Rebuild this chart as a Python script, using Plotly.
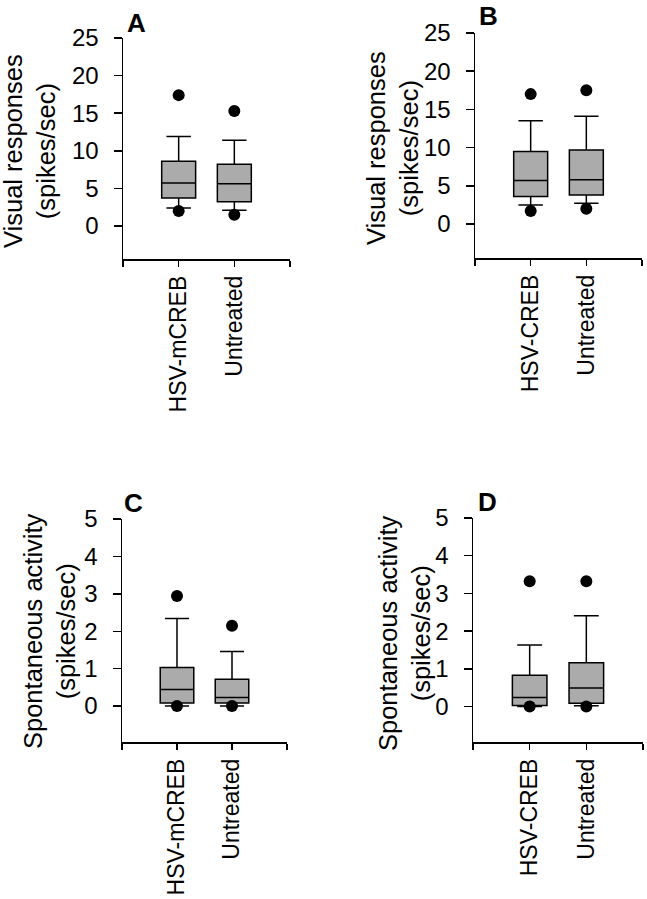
import plotly.graph_objects as go

# ---------------- data ----------------
cats_A = ["HSV-mCREB", "Untreated"]
cats_B = ["HSV-CREB", "Untreated"]

# Panel A (visual responses)
A_q1 = [3.7, 3.2]
A_med = [5.7, 5.6]
A_q3 = [8.6, 8.2]
A_lo = [2.4, 2.1]
A_hi = [11.9, 11.4]
A_out_hi = [17.4, 15.3]
A_out_lo = [2.0, 1.5]

# Panel B (visual responses)
B_q1 = [3.6, 3.8]
B_med = [5.7, 5.8]
B_q3 = [9.5, 9.7]
B_lo = [2.5, 2.7]
B_hi = [13.5, 14.1]
B_out_hi = [17.0, 17.5]
B_out_lo = [1.7, 2.0]

# Panel C (spontaneous activity)
C_q1 = [0.08, 0.08]
C_med = [0.44, 0.23]
C_q3 = [1.03, 0.72]
C_lo = [0.0, 0.0]
C_hi = [2.34, 1.46]
C_out_hi = [2.94, 2.15]
C_out_lo = [0.0, 0.0]

# Panel D (spontaneous activity)
D_q1 = [0.03, 0.09]
D_med = [0.24, 0.49]
D_q3 = [0.83, 1.16]
D_lo = [0.0, 0.02]
D_hi = [1.63, 2.41]
D_out_hi = [3.32, 3.32]
D_out_lo = [0.0, 0.0]

vis_ticks = [0, 5, 10, 15, 20, 25]
spon_ticks = [0, 1, 2, 3, 4, 5]

# ---------------- figure ----------------
W, H = 647, 899
FONT = "Liberation Sans, Arial, Helvetica, sans-serif"
FILL = "#ababab"

panels = [
    dict(n="", cats=cats_A, q1=A_q1, med=A_med, q3=A_q3, lo=A_lo, hi=A_hi,
         oh=A_out_hi, ol=A_out_lo, yr=[-4.4, 25], ticks=vis_ticks,
         px=(123, 290), py=(38, 259)),
    dict(n="2", cats=cats_B, q1=B_q1, med=B_med, q3=B_q3, lo=B_lo, hi=B_hi,
         oh=B_out_hi, ol=B_out_lo, yr=[-4.45, 25], ticks=vis_ticks,
         px=(475, 642), py=(33, 258)),
    dict(n="3", cats=cats_A, q1=C_q1, med=C_med, q3=C_q3, lo=C_lo, hi=C_hi,
         oh=C_out_hi, ol=C_out_lo, yr=[-0.96, 5], ticks=spon_ticks,
         px=(122, 287), py=(519, 742)),
    dict(n="4", cats=cats_B, q1=D_q1, med=D_med, q3=D_q3, lo=D_lo, hi=D_hi,
         oh=D_out_hi, ol=D_out_lo, yr=[-0.94, 5], ticks=spon_ticks,
         px=(473, 643), py=(518, 742)),
]

fig = go.Figure()
layout = dict(template="none", width=W, height=H,
              margin=dict(l=0, r=0, t=0, b=0, autoexpand=False),
              paper_bgcolor="white", plot_bgcolor="white", showlegend=False,
              font=dict(family=FONT, color="black"))

for p in panels:
    xa = "x" + p["n"]
    ya = "y" + p["n"]
    xpos = [1, 2]
    fig.add_trace(go.Box(
        x=xpos, q1=p["q1"], median=p["med"], q3=p["q3"],
        lowerfence=p["lo"], upperfence=p["hi"],
        width=0.61, whiskerwidth=0.72, fillcolor=FILL,
        line=dict(color="black", width=1.5), boxpoints=False,
        xaxis=xa, yaxis=ya, hoverinfo="skip"))
    fig.add_trace(go.Scatter(
        x=xpos + xpos, y=p["oh"] + p["ol"], mode="markers",
        marker=dict(color="black", size=12),
        xaxis=xa, yaxis=ya, hoverinfo="skip", cliponaxis=False))
    layout["xaxis" + p["n"]] = dict(
        domain=[p["px"][0] / W, p["px"][1] / W], anchor=ya, automargin=False,
        range=[0, 3], tickvals=[0, 1, 2, 3],
        ticktext=["", p["cats"][0], p["cats"][1], ""],
        tickangle=-90, ticks="outside", ticklen=6, tickwidth=1.5,
        tickcolor="black", showline=True, linecolor="black", linewidth=1.5,
        showgrid=False, zeroline=False, tickfont=dict(size=23, family=FONT))
    layout["yaxis" + p["n"]] = dict(
        domain=[1 - p["py"][1] / H, 1 - p["py"][0] / H], anchor=xa,
        automargin=False,
        range=p["yr"], tickvals=p["ticks"], ticks="outside", ticklen=8,
        tickwidth=1.5, tickcolor="black", showline=True, linecolor="black",
        linewidth=1.5, showgrid=False, zeroline=False,
        ticklabelstandoff=10, tickfont=dict(size=24, family=FONT))

fig.update_layout(**layout)

ann = []
# y titles
titles = [
    ("Visual responses<br>(spikes/sec)", 29, 151),
    ("Visual responses<br>(spikes/sec)", 392, 148),
    ("Spontaneous activity<br>(spikes/sec)", 49, 631),
    ("Spontaneous activity<br>(spikes/sec)", 404, 633),
]
for t, x, y in titles:
    ann.append(dict(text=t, x=x / W, y=1 - y / H, xref="paper", yref="paper",
                    textangle=-90, showarrow=False, xanchor="center",
                    yanchor="middle", font=dict(size=25.5, family=FONT)))
letters = [("A", 136, 23), ("B", 488, 16), ("C", 133, 503), ("D", 487, 502)]
for t, x, y in letters:
    ann.append(dict(text="<b>" + t + "</b>", x=x / W, y=1 - y / H,
                    xref="paper", yref="paper", showarrow=False,
                    xanchor="center", yanchor="middle",
                    font=dict(size=26, family=FONT)))
fig.update_layout(annotations=ann)

fig.write_html(
    "out.html",
    config={"displayModeBar": False, "staticPlot": True},
    post_script="document.body.style.margin='0px';"
                "document.body.style.overflow='hidden';",
)
